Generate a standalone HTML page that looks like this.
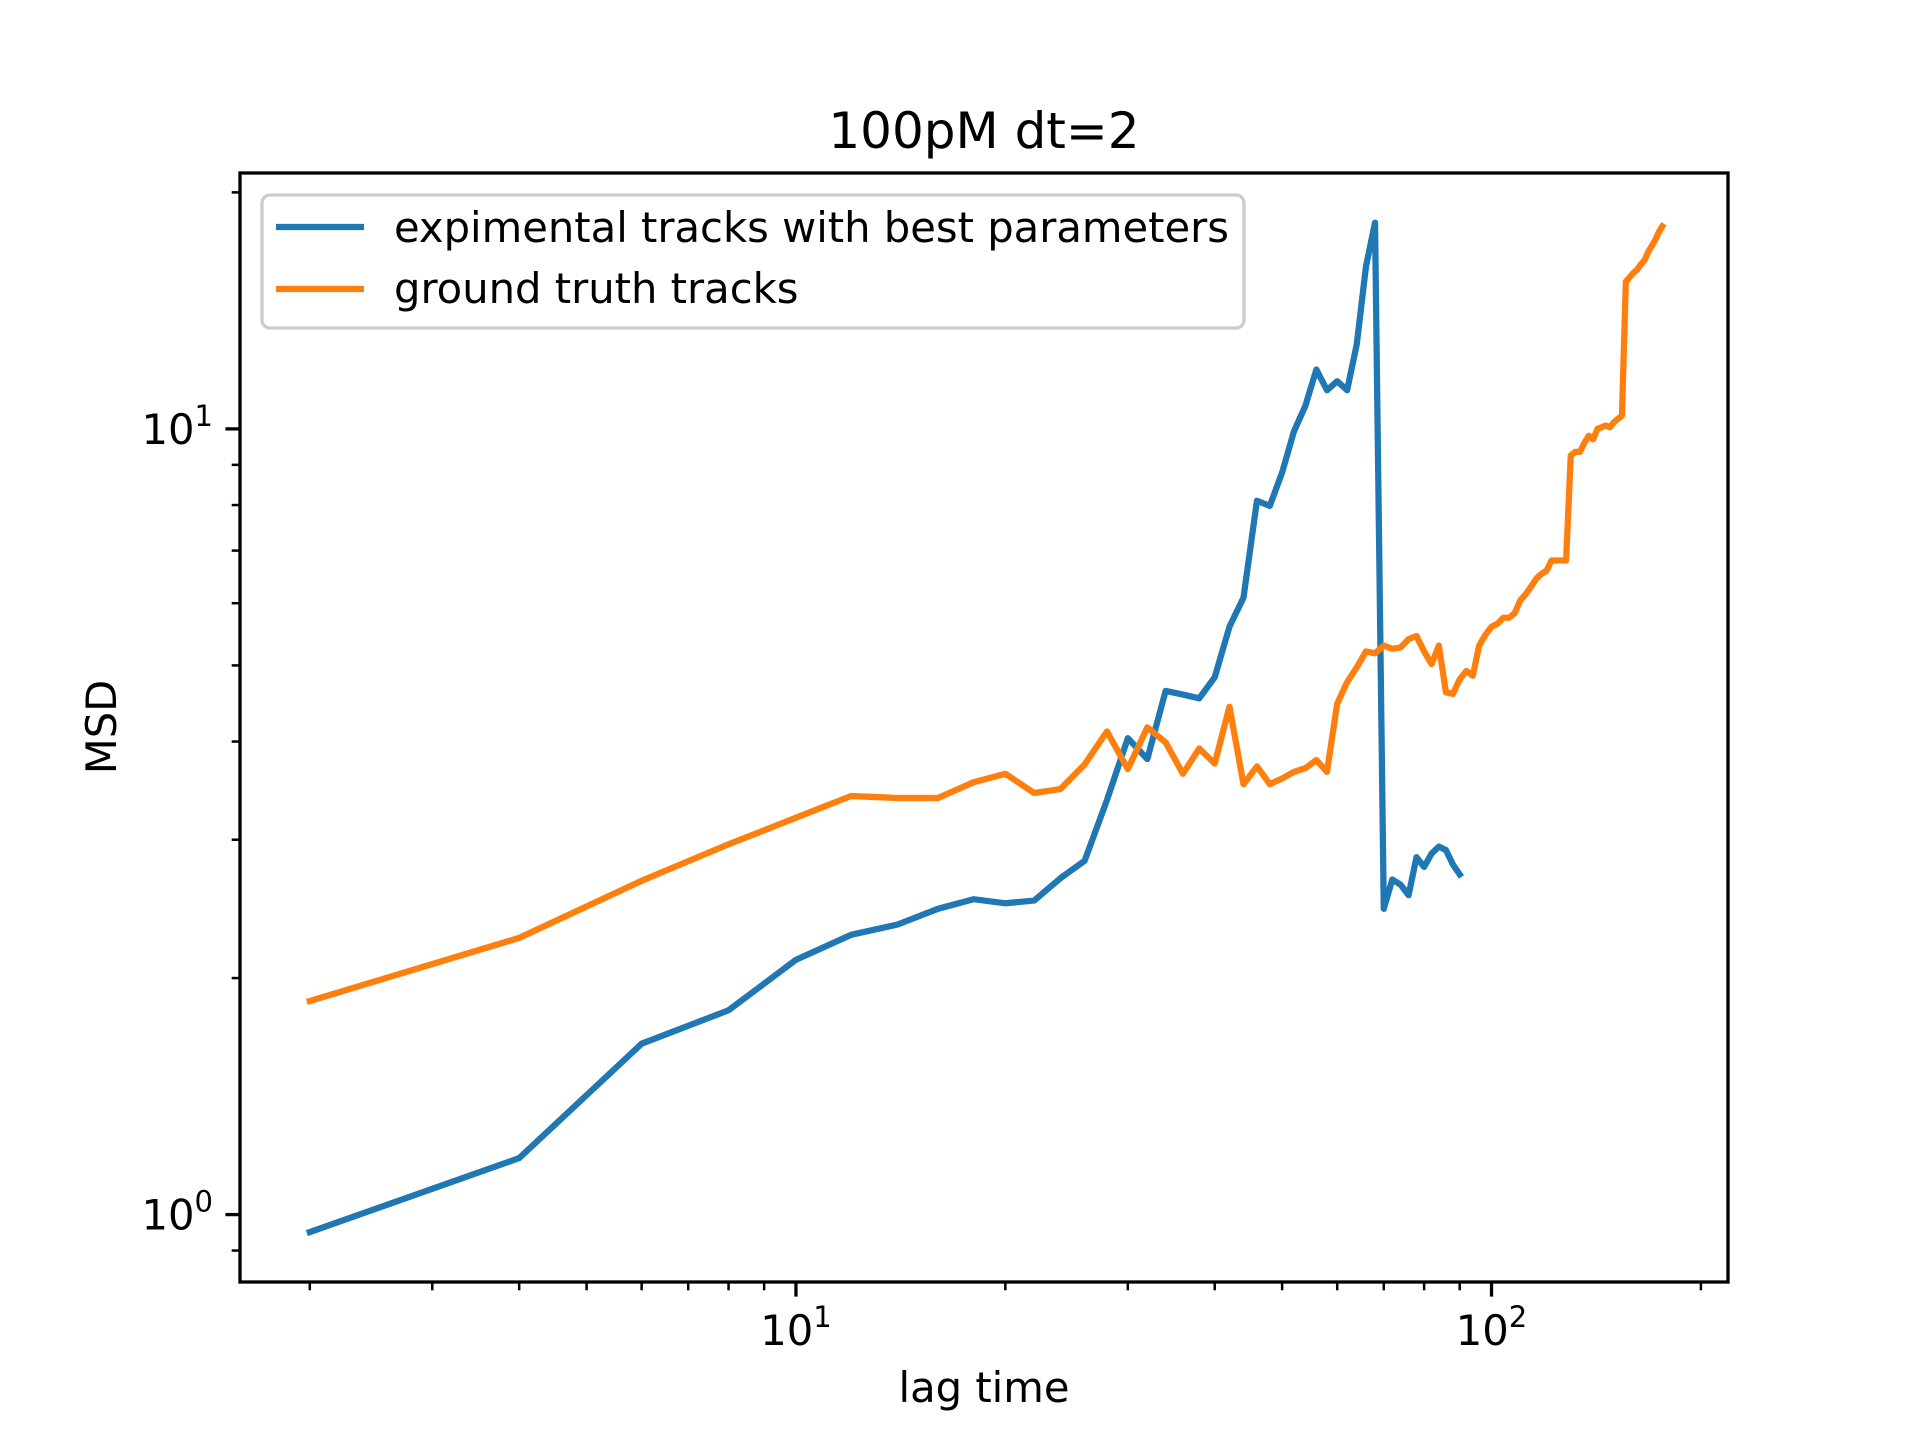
<!DOCTYPE html>
<html><head><meta charset="utf-8"><style>
body{margin:0;background:#fff}
svg{display:block;font-family:"DejaVu Sans","Liberation Sans",sans-serif}
</style></head><body>
<svg id="chart" width="1920" height="1440" viewBox="0 0 1920 1440" xmlns="http://www.w3.org/2000/svg">
<rect width="1920" height="1440" fill="#fff"/>
<text x="984" y="148" font-size="50" text-anchor="middle">100pM dt=2</text>
<text x="984" y="1402" font-size="41.7" text-anchor="middle">lag time</text>
<text x="0" y="0" font-size="41.7" text-anchor="middle" transform="translate(116,727) rotate(-90)">MSD</text>
<g id="plot"></g>
<g>
<rect x="262" y="195" width="982" height="133" rx="8" fill="#fff" fill-opacity="0.8" stroke="#ccc" stroke-width="3.3"/>
<line x1="276" y1="227" x2="364" y2="227" stroke="#1f77b4" stroke-width="6.25"/>
<text x="394" y="242" font-size="41.7">expimental tracks with best parameters</text>
<line x1="276" y1="289" x2="364" y2="289" stroke="#ff7f0e" stroke-width="6.25"/>
<text x="394" y="303" font-size="41.7">ground truth tracks</text>
</g>
</svg>
<script>
const blueX = [2,4,6,8,10,12,14,16,18,20,22,24,26,28,30,32,34,36,38,40,42,44,46,48,50,52,54,56,58,60,62,64,66,68,70,72,74,76,78,80,82,84,86,88,90];
const blueY = [0.95,1.18,1.65,1.82,2.11,2.27,2.34,2.45,2.52,2.49,2.51,2.68,2.82,3.37,4.04,3.8,4.64,4.59,4.54,4.83,5.6,6.1,8.1,7.98,8.8,9.93,10.7,11.9,11.2,11.5,11.2,12.8,16.1,18.3,2.45,2.67,2.63,2.55,2.85,2.77,2.88,2.94,2.91,2.79,2.71];
const orangeX = [2,4,6,8,10,12,14,16,18,20,22,24,26,28,30,32,34,36,38,40,42,44,46,48,50,52,54,56,58,60,62,64,66,68,70,72,74,76,78,80,82,84,86,88,90,92,94,96,98,100,102,104,106,108,110,112,114,116,118,120,122,124,126,128,130,132,134,136,138,140,142,144,146,148,150,152,154,156,158,160,162,164,166,168,170,172,174,176];
const orangeY = [1.87,2.25,2.66,2.96,3.2,3.41,3.39,3.39,3.55,3.64,3.44,3.48,3.74,4.12,3.69,4.17,3.99,3.64,3.92,3.75,4.43,3.53,3.72,3.53,3.59,3.66,3.7,3.79,3.66,4.47,4.76,4.97,5.21,5.18,5.3,5.25,5.27,5.4,5.45,5.21,5.02,5.3,4.62,4.6,4.8,4.92,4.85,5.3,5.47,5.6,5.65,5.75,5.75,5.83,6.05,6.16,6.3,6.45,6.54,6.6,6.8,6.8,6.8,6.8,9.25,9.35,9.35,9.6,9.8,9.7,10.0,10.05,10.1,10.05,10.2,10.3,10.4,15.4,15.6,15.8,15.95,16.2,16.4,16.8,17.1,17.4,17.8,18.1];
const xTickLabels = ["10","10"];
const yTickLabels = ["10","10"];

const L=240,R=1728,T=173,B=1282;
const xmin=0.2007,xmax=2.340,ymin=-0.0858,ymax=1.3257;
const sx=v=>L+(Math.log10(v)-xmin)/(xmax-xmin)*(R-L);
const sy=v=>B-(Math.log10(v)-ymin)/(ymax-ymin)*(B-T);
const NS="http://www.w3.org/2000/svg";
const g=document.getElementById('plot');
function mk(t,a){const e=document.createElementNS(NS,t);for(const k in a)e.setAttribute(k,a[k]);g.appendChild(e);return e;}
for(let d=0;d<=2;d++)for(let m=1;m<10;m++){const v=m*Math.pow(10,d);const lv=Math.log10(v);if(lv<xmin||lv>xmax)continue;const x=sx(v);const len=m===1?14.6:8.3;
const t=mk('line',{x1:x,y1:B,x2:x,y2:B+len,stroke:'#000','stroke-width':m===1?3.3:2.5});

}
for(let d=-1;d<=1;d++)for(let m=1;m<10;m++){const v=m*Math.pow(10,d);const lv=Math.log10(v);if(lv<ymin||lv>ymax)continue;const y=sy(v);const len=m===1?14.6:8.3;
const t=mk('line',{x1:L,y1:y,x2:L-len,y2:y,stroke:'#000','stroke-width':m===1?3.3:2.5});

}
[1,2].forEach((p,i)=>{const t=mk('text',{x:sx(Math.pow(10,p)),y:1345,'font-size':41.7,'text-anchor':'middle'});


t.innerHTML=xTickLabels[i]+'<tspan dy="-18" font-size="29">'+p+'</tspan>';});
[0,1].forEach((p,i)=>{const t=mk('text',{x:213,y:sy(Math.pow(10,p))+15,'font-size':41.7,'text-anchor':'end'});


t.innerHTML=yTickLabels[i]+'<tspan dy="-18" font-size="29">'+p+'</tspan>';});
function line(xs,ys,c,name){const p=mk('polyline',{points:xs.map((x,i)=>sx(x)+','+sy(ys[i])).join(' '),fill:'none',stroke:c,'stroke-width':6.25,'stroke-linejoin':'round','stroke-linecap':'square'});

}
line(blueX,blueY,'#1f77b4','experimental-series-line');
line(orangeX,orangeY,'#ff7f0e','ground-truth-series-line');
const f=mk('rect',{x:L,y:T,width:R-L,height:B-T,fill:'none',stroke:'#000','stroke-width':3.3});


</script>
</body></html>
